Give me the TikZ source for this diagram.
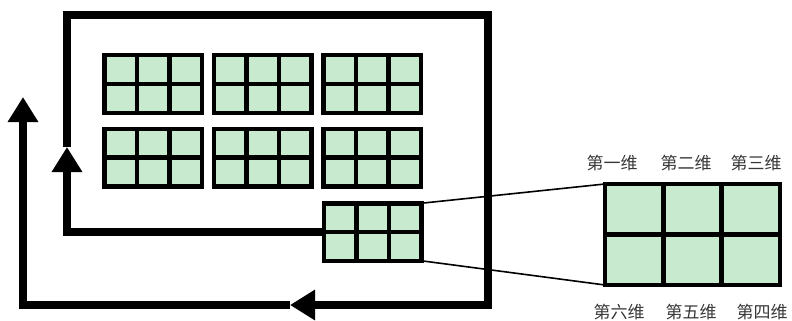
\documentclass[tikz,border=0pt]{standalone}
\usepackage{fontspec}
\newfontfamily\cjk{Noto Sans CJK SC}
\usetikzlibrary{arrows.meta,calc}
\definecolor{cellgreen}{RGB}{200,234,206}
\definecolor{labelgray}{RGB}{55,55,55}

\begin{document}
\begin{tikzpicture}[x=1pt, y=-1pt]
  \tikzset{
    cellblk/.style={draw, line width=4.5pt, fill=cellgreen, minimum width=97.5pt, minimum height=57.5pt, inner sep=0pt, outer sep=0pt},
    bigblk/.style={cellblk, minimum width=175pt, minimum height=101pt},
    gridline/.style={line width=4.5pt},
    loopline/.style={line width=8pt},
    bigtip/.style={-{Triangle[length=25pt, width=29pt]}},
    dimlabel/.style={font=\cjk\fontsize{17}{19}\selectfont, text=labelgray, inner sep=0pt}
  }
  \useasboundingbox (0,0) rectangle (792,321);

  % blocks of 2x3 cells
  \node[cellblk] (b1) at (153,84) {};
  \node[cellblk] (b2) at (262.5,84) {};
  \node[cellblk] (b3) at (372,84) {};
  \node[cellblk] (b4) at (153,157.5) {};
  \node[cellblk] (b5) at (262.5,157.5) {};
  \node[cellblk] (b6) at (372,157.5) {};
  \node[cellblk] (b7) at (372.5,232) {};
  \node[bigblk] (big) at (692.5,234.5) {};
  \foreach \b in {b1,b2,b3,b4,b5,b6,b7,big}{
    \draw[gridline] ($(\b.north west)!1/3!(\b.north east)$) -- ($(\b.south west)!1/3!(\b.south east)$);
    \draw[gridline] ($(\b.north west)!2/3!(\b.north east)$) -- ($(\b.south west)!2/3!(\b.south east)$);
    \draw[gridline] (\b.west) -- (\b.east);
  }

  % zoom lines
  \draw[line width=1.6pt] (b7.north east) -- (big.north west);
  \draw[line width=1.6pt] (b7.south east) -- (big.south west);

  % the loop
  \coordinate (c2) at (67,15);
  \coordinate (c1) at (c2 |- b7.west);
  \coordinate (a1) at (67,147);
  \coordinate (c3) at (488,15);
  \coordinate (c4) at (488,305);
  \coordinate (a2) at (290,305);
  \coordinate (c5) at (23,305);
  \coordinate (a3) at (23,97);
  \draw[loopline, bigtip] (b7.west) -- (c1) -- (a1);
  \draw[loopline, bigtip] (a1) -- (c2) -- (c3) -- (c4) -- (a2);
  \draw[loopline, bigtip] (a2) -- (c5) -- (a3);

  % labels
  \node[dimlabel] (d1) at (612,163) {第一维};
  \node[dimlabel] (d2) at (686,163) {第二维};
  \node[dimlabel] (d3) at (756,163) {第三维};
  \node[dimlabel] (d6) at (619,312) {第六维};
  \node[dimlabel] (d5) at (691,312) {第五维};
  \node[dimlabel] (d4) at (762,312) {第四维};
\end{tikzpicture}
\end{document}
